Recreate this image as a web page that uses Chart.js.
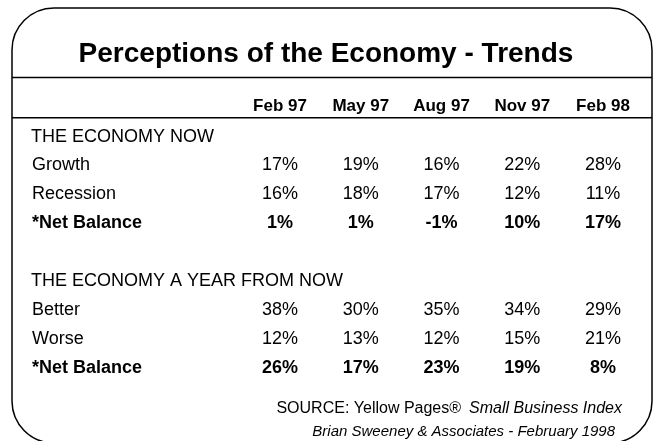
<!DOCTYPE html>
<html>
<head>
<meta charset="utf-8">
<script src="https://cdn.jsdelivr.net/npm/chart.js@4"></script>
<style>
  body { margin: 0; background: #fff; }
  canvas { display: block; }
</style>
</head>
<body>
<canvas id="table" width="655" height="441"></canvas>
<script>
const title = "Perceptions of the Economy - Trends";
const periods = ["Feb 97", "May 97", "Aug 97", "Nov 97", "Feb 98"];
// unique keys for the row scale, and the text shown for each row
const rowKeys = ["head", "now", "growth", "recession", "nowNet", "gap",
  "year", "better", "worse", "yearNet"];
const rowText = ["", "THE ECONOMY NOW", "Growth", "Recession", "*Net Balance", "",
  "THE ECONOMY A YEAR FROM NOW", "Better", "Worse", "*Net Balance"];
const sectionRows = ["now", "year"];
const boldRows = ["nowNet", "yearNet"];

const nowGrowth = [17, 19, 16, 22, 28];
const nowRecession = [16, 18, 17, 12, 11];
const nowNet = [1, 1, -1, 10, 17];
const yearBetter = [38, 30, 35, 34, 29];
const yearWorse = [12, 13, 12, 15, 21];
const yearNet = [26, 17, 23, 19, 8];

const series = [
  { row: "growth", values: nowGrowth },
  { row: "recession", values: nowRecession },
  { row: "nowNet", values: nowNet },
  { row: "better", values: yearBetter },
  { row: "worse", values: yearWorse },
  { row: "yearNet", values: yearNet }
];

const FONT = "Arial, 'Liberation Sans', sans-serif";

const tablePlugin = {
  id: "tableCells",
  afterDatasetsDraw(chart) {
    const ctx = chart.ctx;
    const xs = chart.scales.x, ys = chart.scales.y;
    ctx.save();
    ctx.fillStyle = "#000";
    ctx.strokeStyle = "#000";

    // frame
    ctx.lineWidth = 1.5;
    ctx.beginPath();
    ctx.roundRect(12, 8, 640, 435, 42);
    ctx.stroke();

    // title + rule
    ctx.font = "bold 28px " + FONT;
    ctx.textAlign = "center";
    ctx.textBaseline = "alphabetic";
    ctx.fillText(title, 326, 62);
    ctx.beginPath();
    ctx.moveTo(12, 77.5);
    ctx.lineTo(652, 77.5);
    ctx.stroke();

    // column headers
    const headY = ys.getPixelForValue(0);
    ctx.font = "bold 17px " + FONT;
    ctx.textBaseline = "middle";
    periods.forEach((p, i) => ctx.fillText(p, xs.getPixelForValue(i), headY - 1));
    ctx.beginPath();
    ctx.moveTo(12, headY + 10);
    ctx.lineTo(652, headY + 10);
    ctx.stroke();

    // row labels
    ctx.textAlign = "left";
    rowKeys.forEach((k, i) => {
      if (!rowText[i]) return;
      ctx.font = (boldRows.includes(k) ? "bold " : "") + "18px " + FONT;
      const x = sectionRows.includes(k) ? 31 : 32;
      ctx.fillText(rowText[i], x, ys.getPixelForValue(i));
    });

    // value cells
    ctx.textAlign = "center";
    chart.data.datasets.forEach((ds, di) => {
      const meta = chart.getDatasetMeta(di);
      ctx.font = (boldRows.includes(series[di].row) ? "bold " : "") + "18px " + FONT;
      meta.data.forEach((pt, i) => {
        ctx.fillText(ds.data[i].v + "%", pt.x, pt.y);
      });
    });

    // source
    ctx.textAlign = "right";
    ctx.font = "italic 16px " + FONT;
    const idx = "Small Business Index";
    ctx.fillText(idx, 622, 409);
    const w = ctx.measureText(idx).width;
    ctx.font = "16px " + FONT;
    ctx.fillText("SOURCE: Yellow Pages\u00AE", 622 - w - 8, 409);
    ctx.font = "italic 15px " + FONT;
    ctx.fillText("Brian Sweeney & Associates - February 1998", 615, 432);
    ctx.restore();
  }
};

new Chart(document.getElementById("table"), {
  type: "scatter",
  data: {
    datasets: series.map(s => ({
      label: s.row,
      data: s.values.map((v, i) => ({ x: periods[i], y: s.row, v: v })),
      pointRadius: 0,
      pointHoverRadius: 0,
      showLine: false
    }))
  },
  options: {
    responsive: false,
    animation: false,
    devicePixelRatio: 1,
    layout: { padding: { left: 239.6, right: 11.6, top: 93.2, bottom: 58.8 } },
    scales: {
      x: { type: "category", labels: periods, offset: true, display: false },
      y: { type: "category", labels: rowKeys, offset: true, display: false }
    },
    plugins: { legend: { display: false }, tooltip: { enabled: false } }
  },
  plugins: [tablePlugin]
});
</script>
</body>
</html>
